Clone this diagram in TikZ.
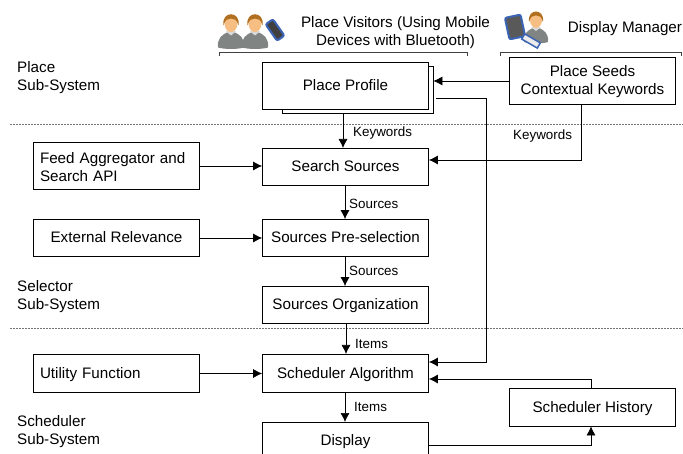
\documentclass[tikz,border=0pt]{standalone}
\usepackage{fontspec}
\setmainfont{Liberation Sans}
\usetikzlibrary{arrows.meta}
\definecolor{skin}{RGB}{246,190,130}
\definecolor{hair}{RGB}{176,112,32}
\definecolor{suit}{RGB}{128,132,130}
\definecolor{devblue}{RGB}{60,100,180}
\tikzset{
  block/.style={draw, fill=white, line width=0.8pt, minimum width=166pt, inner sep=0pt, align=center, font=\fontsize{15.2}{18}\selectfont},
  single/.style={block, text height=13pt, text depth=3pt},
  lbl/.style={inner sep=0pt, align=center, font=\fontsize{13.4}{16}\selectfont},
  head/.style={inner sep=0pt, align=center, font=\fontsize{15.2}{18}\selectfont},
  sysname/.style={inner sep=0pt, align=left, anchor=west, font=\fontsize{15.2}{18}\selectfont},
  link/.style={draw, line width=0.7pt, -{Latex[length=9pt,width=9pt]}},
  plain/.style={draw, line width=0.7pt},
  sep/.style={draw=black!55, line width=0.7pt, dash pattern=on 2pt off 1pt},
  bracket/.style={draw=black!75, line width=0.7pt},
  person/.pic={
    \fill[suit] (-13,24) .. controls (-14,14) and (-8,11) .. (-4,9) -- (4,9) .. controls (8,11) and (14,14) .. (13,24) .. controls (6,26) and (-6,26) .. (-13,24) -- cycle;
    \fill[white!85!black] (-5,8) -- (0,12) -- (5,8) -- (3,7) -- (-3,7) -- cycle;
    \fill[skin] (0,0) ellipse (6.5pt and 8.5pt);
    \fill[hair] (-7.5,2) .. controls (-10,-13) and (10,-13) .. (7.5,2) .. controls (6,-4) and (3,-5) .. (0,-5) .. controls (-3,-5) and (-6,-4) .. (-7.5,2) -- cycle;
  }
}
\begin{document}
\begin{tikzpicture}[x=1pt,y=-1pt]
\useasboundingbox (0,0) rectangle (683,454);
\clip (0,0) rectangle (683,454);

% sub-system separators
\draw[sep] (10,124) -- (683,124);
\draw[sep] (10,328) -- (683,328);

% people and devices
\pic at (231,23.5) {person};
\pic at (255,23.5) {person};
\draw[fill=black!75, draw=devblue, line width=2pt, rounded corners=2pt, rotate around={35:(275,30)}] (270.5,20) rectangle (279.5,40);
\pic[scale=0.92] at (536,20) {person};
\draw[fill=black!65, draw=devblue, line width=2pt, rounded corners=2pt, rotate around={12:(515,27)}] (507,16) rectangle (523,38);
\draw[fill=black!8, draw=devblue, line width=1.5pt, rotate around={-30:(531,41)}] (522,38) rectangle (540,44);

% titles
\node[head] (visitors) at (395.5,33) {Place Visitors (Using Mobile\\Devices with Bluetooth)};
\node[head] (manager) at (625,28.5) {Display Manager};
\draw[bracket] (219,56) -- (219,52.5) -- (467,52.5) -- (467,56);
\draw[bracket] (500,56) -- (500,52.5) -- (681,52.5) -- (681,56);

% sub-system names
\node[sysname] (placesys) at (17,77.5) {Place\\Sub-System};
\node[sysname] (selectsys) at (17,296.5) {Selector\\Sub-System};
\node[sysname] (schedsys) at (17,431.5) {Scheduler\\Sub-System};

% boxes
\node[block, minimum width=151pt, minimum height=47pt] (profileback) at (357.5,90) {};
\node[single, minimum height=47pt] (profile) at (345.5,85.5) {Place Profile};
\node[block, minimum height=47pt] (seeds) at (592.5,81) {\rule{0pt}{13pt}Place Seeds\\Contextual Keywords};
\node[single, minimum height=37pt] (search) at (345.5,166.5) {Search Sources};
\node[block, minimum height=47pt, align=left, text width=153pt] (feed) at (116.5,166) {\rule{0pt}{13pt}Feed Aggregator and\\Search API};
\node[single, minimum height=37pt] (preselect) at (345.5,238) {Sources Pre-selection};
\node[single, minimum height=37pt] (external) at (116.5,238) {External Relevance};
\node[single, minimum height=37pt] (organize) at (345.5,305) {Sources Organization};
\node[single, minimum height=38pt] (scheduler) at (345.5,373.5) {Scheduler Algorithm};
\node[single, minimum height=38pt, align=left, text width=153pt] (utility) at (116.5,373.5) {Utility Function};
\node[single, minimum height=38pt] (history) at (592.5,407) {Scheduler History};
\node[single, minimum height=36pt] (display) at (345.5,440) {Display};

% free ends
\coordinate (profout) at (436,98);
\coordinate (profbend) at (486,98);
\coordinate (schedin) at (486,362);
\coordinate (histbend) at (591,379);
\coordinate (dispout) at (429,445);
\coordinate (dispbend) at (591,445);

% connectors
\path[link] (seeds.west) -- (seeds.west -| profileback.east);
\path[plain] (profout) -- (profbend);
\path[link] (profbend) -- (schedin) -- (schedin -| scheduler.east);
\path[link] (seeds.south -| 581,0) |- (search.east |- 0,160);
\path[link] (343,114) -- (343,148);
\path[link] (feed.east) -- (search.west |- feed.east);
\path[link] (search.south -| 345,0) -- (preselect.north -| 345,0);
\path[link] (external.east) -- (preselect.west);
\path[link] (preselect.south -| 345,0) -- (organize.north -| 345,0);
\path[link] (346,324) -- (346,354);
\path[link] (utility.east) -- (scheduler.west);
\path[link] (345,393) -- (345,422);
\path[link] (history.north -| histbend) -- (histbend) -- (histbend -| scheduler.east);
\path[link] (dispout) -- (dispbend) -- (history.south -| dispbend);

% arrow labels
\node[lbl, anchor=west] (kw1) at (353,133.5) {Keywords};
\node[lbl, anchor=west] (kw2) at (513,136.5) {Keywords};
\node[lbl, anchor=west] (src1) at (349,204) {Sources};
\node[lbl, anchor=west] (src2) at (349,271) {Sources};
\node[lbl, anchor=west] (items1) at (355,344) {Items};
\node[lbl, anchor=west] (items2) at (354,407) {Items};
\end{tikzpicture}
\end{document}
